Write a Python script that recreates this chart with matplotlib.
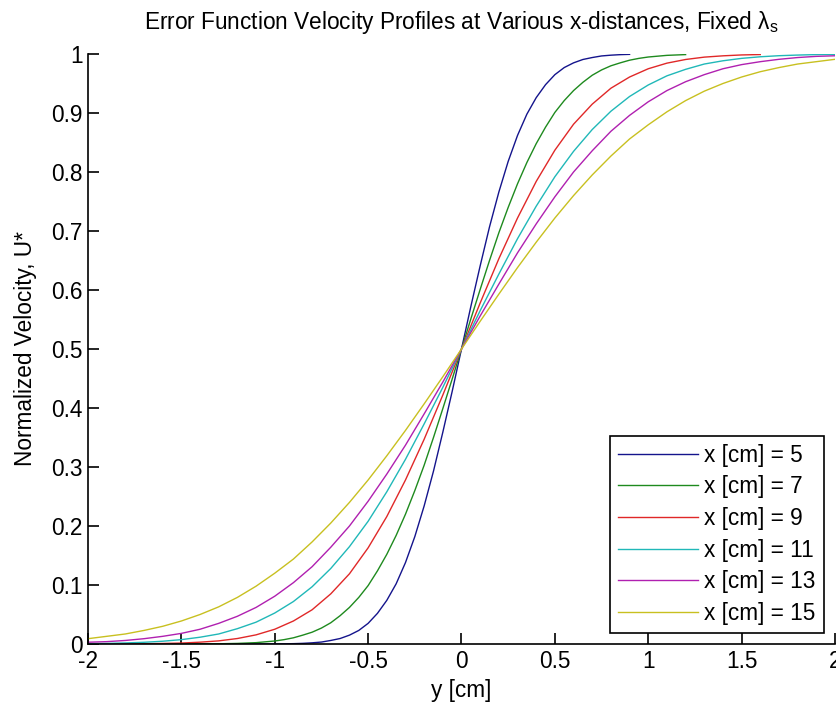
'''
Error function velocity profiles at several downstream distances.
'''
from matplotlib import pyplot as plt

# ------------- values --------------------------------------------
x_dist = [5, 7, 9, 11, 13, 15]

# x = 5 cm (steep, so sampled finer near the centre)
y_x5 = [-2.0, -1.5, -1.0, -0.95, -0.9, -0.85, -0.8, -0.75, -0.7, -0.65,
        -0.6, -0.55, -0.5, -0.45, -0.4, -0.35, -0.3, -0.25, -0.2, -0.15,
        -0.1, -0.05, 0.0, 0.05, 0.1, 0.15, 0.2, 0.25, 0.3, 0.35, 0.4,
        0.45, 0.5, 0.55, 0.6, 0.65, 0.7, 0.75, 0.8, 0.85, 0.9]
u_x5 = [0, 0, 0.0001, 0.0003, 0.0006, 0.0011, 0.002, 0.0033, 0.006, 0.0093,
        0.015, 0.023, 0.035, 0.052, 0.074, 0.102, 0.138, 0.182, 0.234,
        0.293, 0.359, 0.428, 0.5, 0.572, 0.641, 0.707, 0.766, 0.818, 0.862,
        0.898, 0.926, 0.948, 0.965, 0.977, 0.985, 0.9907, 0.994, 0.9967,
        0.998, 0.9989, 0.9994]

# x = 7 cm
y_x7 = [-2.0, -1.9, -1.8, -1.7, -1.6, -1.5, -1.4, -1.3, -1.2, -1.1, -1.0,
        -0.95, -0.9, -0.85, -0.8, -0.75, -0.7, -0.65, -0.6, -0.55, -0.5,
        -0.45, -0.4, -0.35, -0.3, -0.25, -0.2, -0.15, -0.1, -0.05, 0.0,
        0.05, 0.1, 0.15, 0.2, 0.25, 0.3, 0.35, 0.4, 0.45, 0.5, 0.55, 0.6,
        0.65, 0.7, 0.75, 0.8, 0.85, 0.9, 0.95, 1.0, 1.1, 1.2]
u_x7 = [0, 0, 0, 0, 0, 0.0001, 0.0002, 0.0004, 0.0010, 0.0023, 0.0051,
        0.0074, 0.0105, 0.015, 0.020, 0.027, 0.036, 0.048, 0.062, 0.079,
        0.099, 0.124, 0.152, 0.184, 0.220, 0.260, 0.303, 0.350, 0.399,
        0.449, 0.5, 0.551, 0.601, 0.650, 0.697, 0.740, 0.780, 0.816, 0.848,
        0.876, 0.901, 0.921, 0.938, 0.952, 0.964, 0.973, 0.980, 0.985,
        0.9895, 0.9926, 0.9949, 0.9977, 0.9990]

# x = 9 .. 15 cm share one grid (each stops where its line stops)
y_grid = [-2.0, -1.9, -1.8, -1.7, -1.6, -1.5, -1.4, -1.3, -1.2, -1.1,
          -1.0, -0.9, -0.8, -0.7, -0.6, -0.5, -0.4, -0.3, -0.2, -0.1,
          0.0, 0.1, 0.2, 0.3, 0.4, 0.5, 0.6, 0.7, 0.8, 0.9,
          1.0, 1.1, 1.2, 1.3, 1.4, 1.5, 1.6, 1.7, 1.8, 1.9, 2.0]
u_x9 = [0.0001, 0.0001, 0.0002, 0.0005, 0.0009, 0.0016, 0.0031, 0.0053,
        0.0093, 0.0155, 0.025, 0.039, 0.058, 0.085, 0.119, 0.163, 0.216,
        0.278, 0.347, 0.422, 0.5, 0.578, 0.653, 0.722, 0.784, 0.837, 0.881,
        0.915, 0.942, 0.961, 0.975, 0.9845, 0.9907, 0.9947, 0.9969, 0.9984,
        0.9991]
u_x11 = [0.0006, 0.0010, 0.0018, 0.0029, 0.0047, 0.0074, 0.0115, 0.017,
         0.026, 0.037, 0.0525, 0.072, 0.097, 0.128, 0.165, 0.208, 0.258,
         0.313, 0.373, 0.435, 0.5, 0.565, 0.627, 0.687, 0.742, 0.792, 0.835,
         0.872, 0.903, 0.928, 0.9475, 0.963, 0.974, 0.983, 0.9885, 0.9926,
         0.9953, 0.9971, 0.9982, 0.9990, 0.9994]
u_x13 = [0.003, 0.004, 0.006, 0.009, 0.013, 0.018, 0.025, 0.035, 0.047,
         0.062, 0.081, 0.104, 0.131, 0.164, 0.200, 0.242, 0.288, 0.337,
         0.390, 0.444, 0.5, 0.556, 0.610, 0.663, 0.712, 0.758, 0.800, 0.836,
         0.869, 0.896, 0.919, 0.938, 0.953, 0.965, 0.975, 0.982, 0.987,
         0.991, 0.994, 0.996, 0.997]
u_x15 = [0.009, 0.013, 0.017, 0.023, 0.030, 0.039, 0.050, 0.063, 0.079,
         0.098, 0.120, 0.144, 0.173, 0.205, 0.240, 0.278, 0.319, 0.362,
         0.407, 0.453, 0.5, 0.547, 0.593, 0.638, 0.681, 0.722, 0.760, 0.795,
         0.827, 0.856, 0.880, 0.902, 0.921, 0.937, 0.950, 0.961, 0.970,
         0.977, 0.983, 0.987, 0.991]

x_ticks = [-2, -1.5, -1, -0.5, 0, 0.5, 1, 1.5, 2]
x_ticklabels = ["-2", "-1.5", "-1", "-0.5", "0", "0.5", "1", "1.5", "2"]
y_ticks = [0, 0.1, 0.2, 0.3, 0.4, 0.5, 0.6, 0.7, 0.8, 0.9, 1]
y_ticklabels = ["0", "0.1", "0.2", "0.3", "0.4", "0.5", "0.6", "0.7",
                "0.8", "0.9", "1"]


def main():
    plt.rcParams["font.family"] = "Liberation Sans"
    plt.rcParams["mathtext.default"] = "regular"
    plt.rcParams["axes.unicode_minus"] = False
    Fontsize = 16.3

    ys = [y_x5, y_x7, y_grid, y_grid, y_grid, y_grid]
    profiles = [u_x5, u_x7, u_x9, u_x11, u_x13, u_x15]
    colors = ["#14148c", "#1e8a1e", "#e02828", "#20b8b8", "#b020b0",
              "#c8c020"]

    fig = plt.figure(figsize=(8.37, 7.10), dpi=100)
    ax = fig.add_axes([88/837, 66/710, 747/837, 590/710])
    for x, y, u, c in zip(x_dist, ys, profiles, colors):
        ax.plot(y[:len(u)], u, color=c, linewidth=1.0,
                label="x [cm] = %d" % x)

    ax.set_xlim(-2, 2)
    ax.set_ylim(0, 1)
    ax.set_xticks(x_ticks)
    ax.set_xticklabels(x_ticklabels)
    ax.set_yticks(y_ticks)
    ax.set_yticklabels(y_ticklabels)
    ax.tick_params(direction="in", length=8, width=1.2,
                   labelsize=Fontsize, pad=4)
    ax.spines["top"].set_visible(False)
    ax.spines["right"].set_visible(False)
    ax.spines["left"].set_linewidth(1.2)
    ax.spines["bottom"].set_linewidth(1.2)

    ax.set_title(r"Error Function Velocity Profiles at Various x-distances,"
                 r" Fixed $\lambda_s$", fontsize=Fontsize, pad=18)
    ax.set_xlabel("y [cm]", fontsize=Fontsize, labelpad=5)
    ax.set_ylabel("Normalized Velocity, U*", fontsize=Fontsize, labelpad=10)

    leg = ax.legend(loc="lower right", fontsize=Fontsize, fancybox=False,
                    framealpha=1, edgecolor="black", handlelength=3.5,
                    handletextpad=0.3, labelspacing=0.38, borderpad=0.35,
                    borderaxespad=0.5)
    leg.get_frame().set_linewidth(1.2)

    fig.savefig("out.png", dpi=100)
    plt.close(fig)


if __name__ == '__main__':
    main()
